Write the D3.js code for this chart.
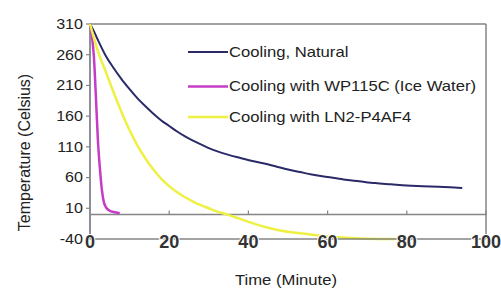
<!DOCTYPE html>
<html>
<head>
<meta charset="utf-8">
<script src="https://cdn.jsdelivr.net/npm/d3@7"></script>
<style>
  body { margin: 0; background: #fff; }
  text { font-family: "Liberation Sans", Arial, sans-serif; fill: #222; }
</style>
</head>
<body>
<div id="chart"></div>
<script>
const width = 501, height = 293;

// series (minutes, celsius)
const naturalTime = [0, 1, 2, 4, 6, 8, 10, 12, 14, 16, 18, 20, 22, 24, 26, 28, 30, 32, 35, 38, 41, 44, 47, 50, 53, 56, 60, 64, 68, 72, 76, 80, 84, 88, 92, 94];
const naturalTemp = [310, 298, 284, 258, 238, 220, 204, 189, 176, 164, 153, 144, 135, 127, 120, 114, 108, 103, 97, 92, 87, 83, 78, 73, 69, 65, 61, 57, 54, 51, 49, 47, 46, 45, 44, 43];

const iceTime = [0, 0.5, 1, 1.5, 2, 2.5, 3, 3.5, 4, 5, 6, 7.5];
const iceTemp = [310, 290, 255, 190, 120, 75, 40, 20, 12, 6, 4, 2];

const ln2Time = [0, 1, 2, 4, 6, 8, 10, 12, 14, 16, 18, 20, 22, 24, 26, 28, 30, 32, 34, 36, 40, 44, 48, 52, 56, 60, 65, 70, 77];
const ln2Temp = [310, 287, 266, 232, 198, 166, 137, 112, 91, 73, 58, 46, 36, 28, 21, 15, 10, 5, 1, -3, -12, -20, -26, -30, -33, -36, -38, -39.5, -40];

const seriesNames = ['Cooling, Natural', 'Cooling with WP115C (Ice Water)', 'Cooling with LN2-P4AF4'];
const seriesColors = ['#2a2a68', '#c63cc6', '#eef043'];

const yTicks = [310, 260, 210, 160, 110, 60, 10, -40];
const xTicks = [0, 20, 40, 60, 80, 100];

const margin = {left: 90, right: 15, top: 24, bottom: 54};

const x = d3.scaleLinear().domain([0, 100]).range([margin.left, width - margin.right]);
const y = d3.scaleLinear().domain([-40, 310]).range([height - margin.bottom, margin.top]);

const svg = d3.select('#chart').append('svg')
  .attr('width', width)
  .attr('height', height);

svg.append('rect').attr('width', width).attr('height', height).attr('fill', '#fff');

// text is a bit wide in the original, stretch it horizontally
function stretchText(sel, px, py, sx) {
  return sel.attr('transform', `translate(${px},${py}) scale(${sx},1)`);
}

const frame = '#858585';

// frame: top, right, left
svg.append('line')
  .attr('x1', x(0)).attr('x2', x(100)).attr('y1', y(310)).attr('y2', y(310))
  .attr('stroke', frame).attr('stroke-width', 1.5);
svg.append('line')
  .attr('x1', x(100)).attr('x2', x(100)).attr('y1', y(310)).attr('y2', y(-40))
  .attr('stroke', frame).attr('stroke-width', 1.5);
svg.append('line')
  .attr('x1', x(0)).attr('x2', x(0)).attr('y1', y(310)).attr('y2', y(-40))
  .attr('stroke', '#6a6a7a').attr('stroke-width', 1.5);

// zero line with tick marks
svg.append('line')
  .attr('x1', x(0)).attr('x2', x(100)).attr('y1', y(0)).attr('y2', y(0))
  .attr('stroke', frame).attr('stroke-width', 1.5);
svg.append('g').selectAll('line')
  .data(xTicks.slice(1))
  .join('line')
    .attr('x1', d => x(d)).attr('x2', d => x(d))
    .attr('y1', y(0)).attr('y2', y(0) - 4)
    .attr('stroke', frame).attr('stroke-width', 1.2);

// y ticks + labels
svg.append('g').selectAll('line')
  .data(yTicks)
  .join('line')
    .attr('x1', x(0) - 4).attr('x2', x(0))
    .attr('y1', d => y(d)).attr('y2', d => y(d))
    .attr('stroke', frame).attr('stroke-width', 1.2);

svg.append('g').selectAll('text')
  .data(yTicks)
  .join('text')
    .attr('text-anchor', 'end')
    .attr('dy', '0.35em')
    .style('font-size', '14px')
    .text(d => d)
    .each(function(d) { stretchText(d3.select(this), x(0) - 7, y(d), 1.15); });

// series lines
const line = d3.line()
  .x(d => x(d[0]))
  .y(d => y(d[1]))
  .curve(d3.curveMonotoneX);

const series = [
  d3.zip(naturalTime, naturalTemp),
  d3.zip(iceTime, iceTemp),
  d3.zip(ln2Time, ln2Temp)
];

svg.append('g').selectAll('path')
  .data(series)
  .join('path')
    .attr('d', line)
    .attr('fill', 'none')
    .attr('stroke', (d, i) => seriesColors[i])
    .attr('stroke-width', (d, i) => i === 0 ? 2 : 2.5)
    .attr('stroke-linejoin', 'round');

// bottom axis line, labels sit on it
svg.append('line')
  .attr('x1', x(0)).attr('x2', x(100)).attr('y1', y(-40)).attr('y2', y(-40))
  .attr('stroke', frame).attr('stroke-width', 1.5);

svg.append('g').selectAll('text')
  .data(xTicks)
  .join('text')
    .attr('text-anchor', 'middle')
    .attr('dy', '0.36em')
    .style('font-size', '19px')
    .style('font-weight', 'bold')
    .style('fill', '#333')
    .attr('stroke', '#fff')
    .attr('stroke-width', 2)
    .attr('paint-order', 'stroke')
    .text(d => d)
    .each(function(d) { stretchText(d3.select(this), x(d), y(-40) + 2, 0.95); });

// axis titles
svg.append('text')
  .attr('text-anchor', 'middle')
  .style('font-size', '14px')
  .text('Time (Minute)')
  .call(stretchText, (x(0) + x(100)) / 2 - 2, 285, 1.19);

svg.append('text')
  .attr('text-anchor', 'middle')
  .attr('transform', `translate(30,${(y(310) + y(-40)) / 2 + 21}) rotate(-90)`)
  .style('font-size', '16px')
  .text('Temperature (Celsius)');

// legend
const legendY = [52, 86.5, 117];
const legend = svg.append('g').selectAll('g')
  .data(seriesNames)
  .join('g');

legend.append('line')
  .attr('x1', 188).attr('x2', 228)
  .attr('y1', (d, i) => legendY[i]).attr('y2', (d, i) => legendY[i])
  .attr('stroke', (d, i) => seriesColors[i])
  .attr('stroke-width', (d, i) => i === 0 ? 2 : 2.5);

legend.append('text')
  .attr('dy', '0.35em')
  .style('font-size', '14px')
  .text(d => d)
  .each(function(d, i) { stretchText(d3.select(this), 229, legendY[i], 1.19); });
</script>
</body>
</html>
